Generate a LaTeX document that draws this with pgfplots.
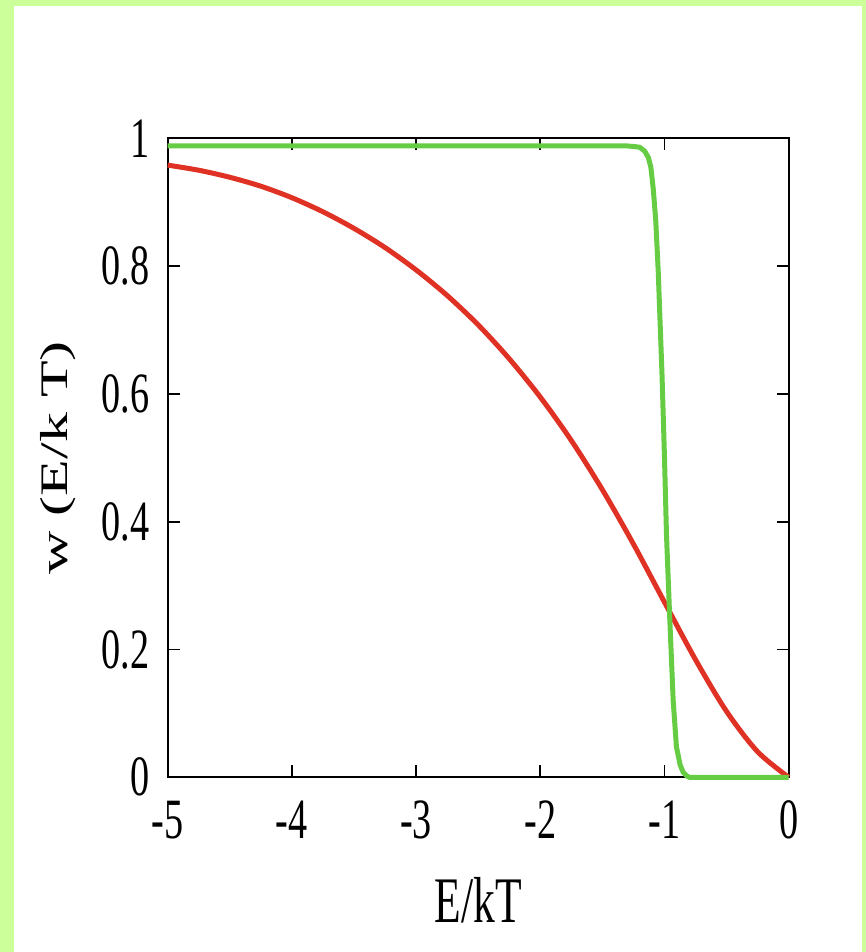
\documentclass[border=0pt]{standalone}
\usepackage{fontspec}
\setmainfont{Liberation Serif}[FakeStretch=0.67]
\newfontfamily\ylabfont{Liberation Serif}
\usepackage{pgfplots}
\pgfplotsset{compat=1.18}

\definecolor{bordergreen}{RGB}{204,255,153}
\definecolor{curvered}{RGB}{224,50,36}
\definecolor{curvegreen}{RGB}{102,204,68}

\begin{document}
\begin{tikzpicture}
% page background with the green frame
\fill[bordergreen] (-83.85pt,-87.35pt) rectangle (349.15pt,388.65pt);
\fill[white] (-76.85pt,-87.35pt) rectangle (347.15pt,385.65pt);

\begin{axis}[
    at={(0,0)}, anchor=south west,
    scale only axis,
    width=310.5pt, height=319.5pt,
    xmin=-5, xmax=0,
    ymin=0, ymax=1,
    xtick={-5,-4,-3,-2,-1,0},
    ytick={0,0.2,0.4,0.6,0.8,1},
    axis line style={line width=0.9pt},
    major tick style={line width=0.9pt, black},
    major tick length=6pt,
    /pgf/number format/assume math mode=true,
    tick label style={font=\fontsize{28.5}{30}\selectfont},
    xticklabel style={inner sep=0pt, yshift=-11.5pt},
    yticklabel style={inner sep=0pt, xshift=-9pt},
    xlabel={E/kT},
    xlabel style={at={(axis description cs:0.5,-0.1925)}, anchor=center,
                  inner sep=0pt, font=\fontsize{32.5}{34}\selectfont},
    ylabel={\scalebox{1}[0.65]{\ylabfont\fontsize{30}{32}\selectfont w (E/k T)}},
    ylabel style={at={(axis description cs:-0.1771,0.5)}, anchor=center,
                  inner sep=0pt},
    clip=false,
]

\addplot[color=curvered, line width=2.5pt, smooth] coordinates {
    (-5,0.958) (-4.75,0.950) (-4.5,0.939) (-4.25,0.925) (-4,0.907)
    (-3.75,0.885) (-3.5,0.859) (-3.25,0.829) (-3,0.794) (-2.75,0.754)
    (-2.5,0.708) (-2.25,0.655) (-2,0.595) (-1.75,0.527) (-1.5,0.450)
    (-1.25,0.365) (-1,0.274) (-0.75,0.184) (-0.5,0.103) (-0.25,0.040)
    (0,0)
};

\addplot[color=curvegreen, line width=2.5pt, line join=round] coordinates {
    (-5,0.988) (-1.3,0.988) (-1.24,0.987) (-1.2,0.986) (-1.16,0.98)
    (-1.13,0.97) (-1.11,0.955) (-1.09,0.92) (-1.07,0.87) (-1.05,0.79)
    (-1.036,0.715) (-1.02,0.63) (-1.0,0.5) (-0.984,0.38) (-0.958,0.25)
    (-0.93,0.12) (-0.904,0.048) (-0.875,0.02) (-0.85,0.008) (-0.82,0.002)
    (-0.80,0) (0,0)
};

\end{axis}

\pgfresetboundingbox
\path[use as bounding box] (-83.85pt,-87.35pt) rectangle (349.15pt,388.65pt);
\end{tikzpicture}
\end{document}
